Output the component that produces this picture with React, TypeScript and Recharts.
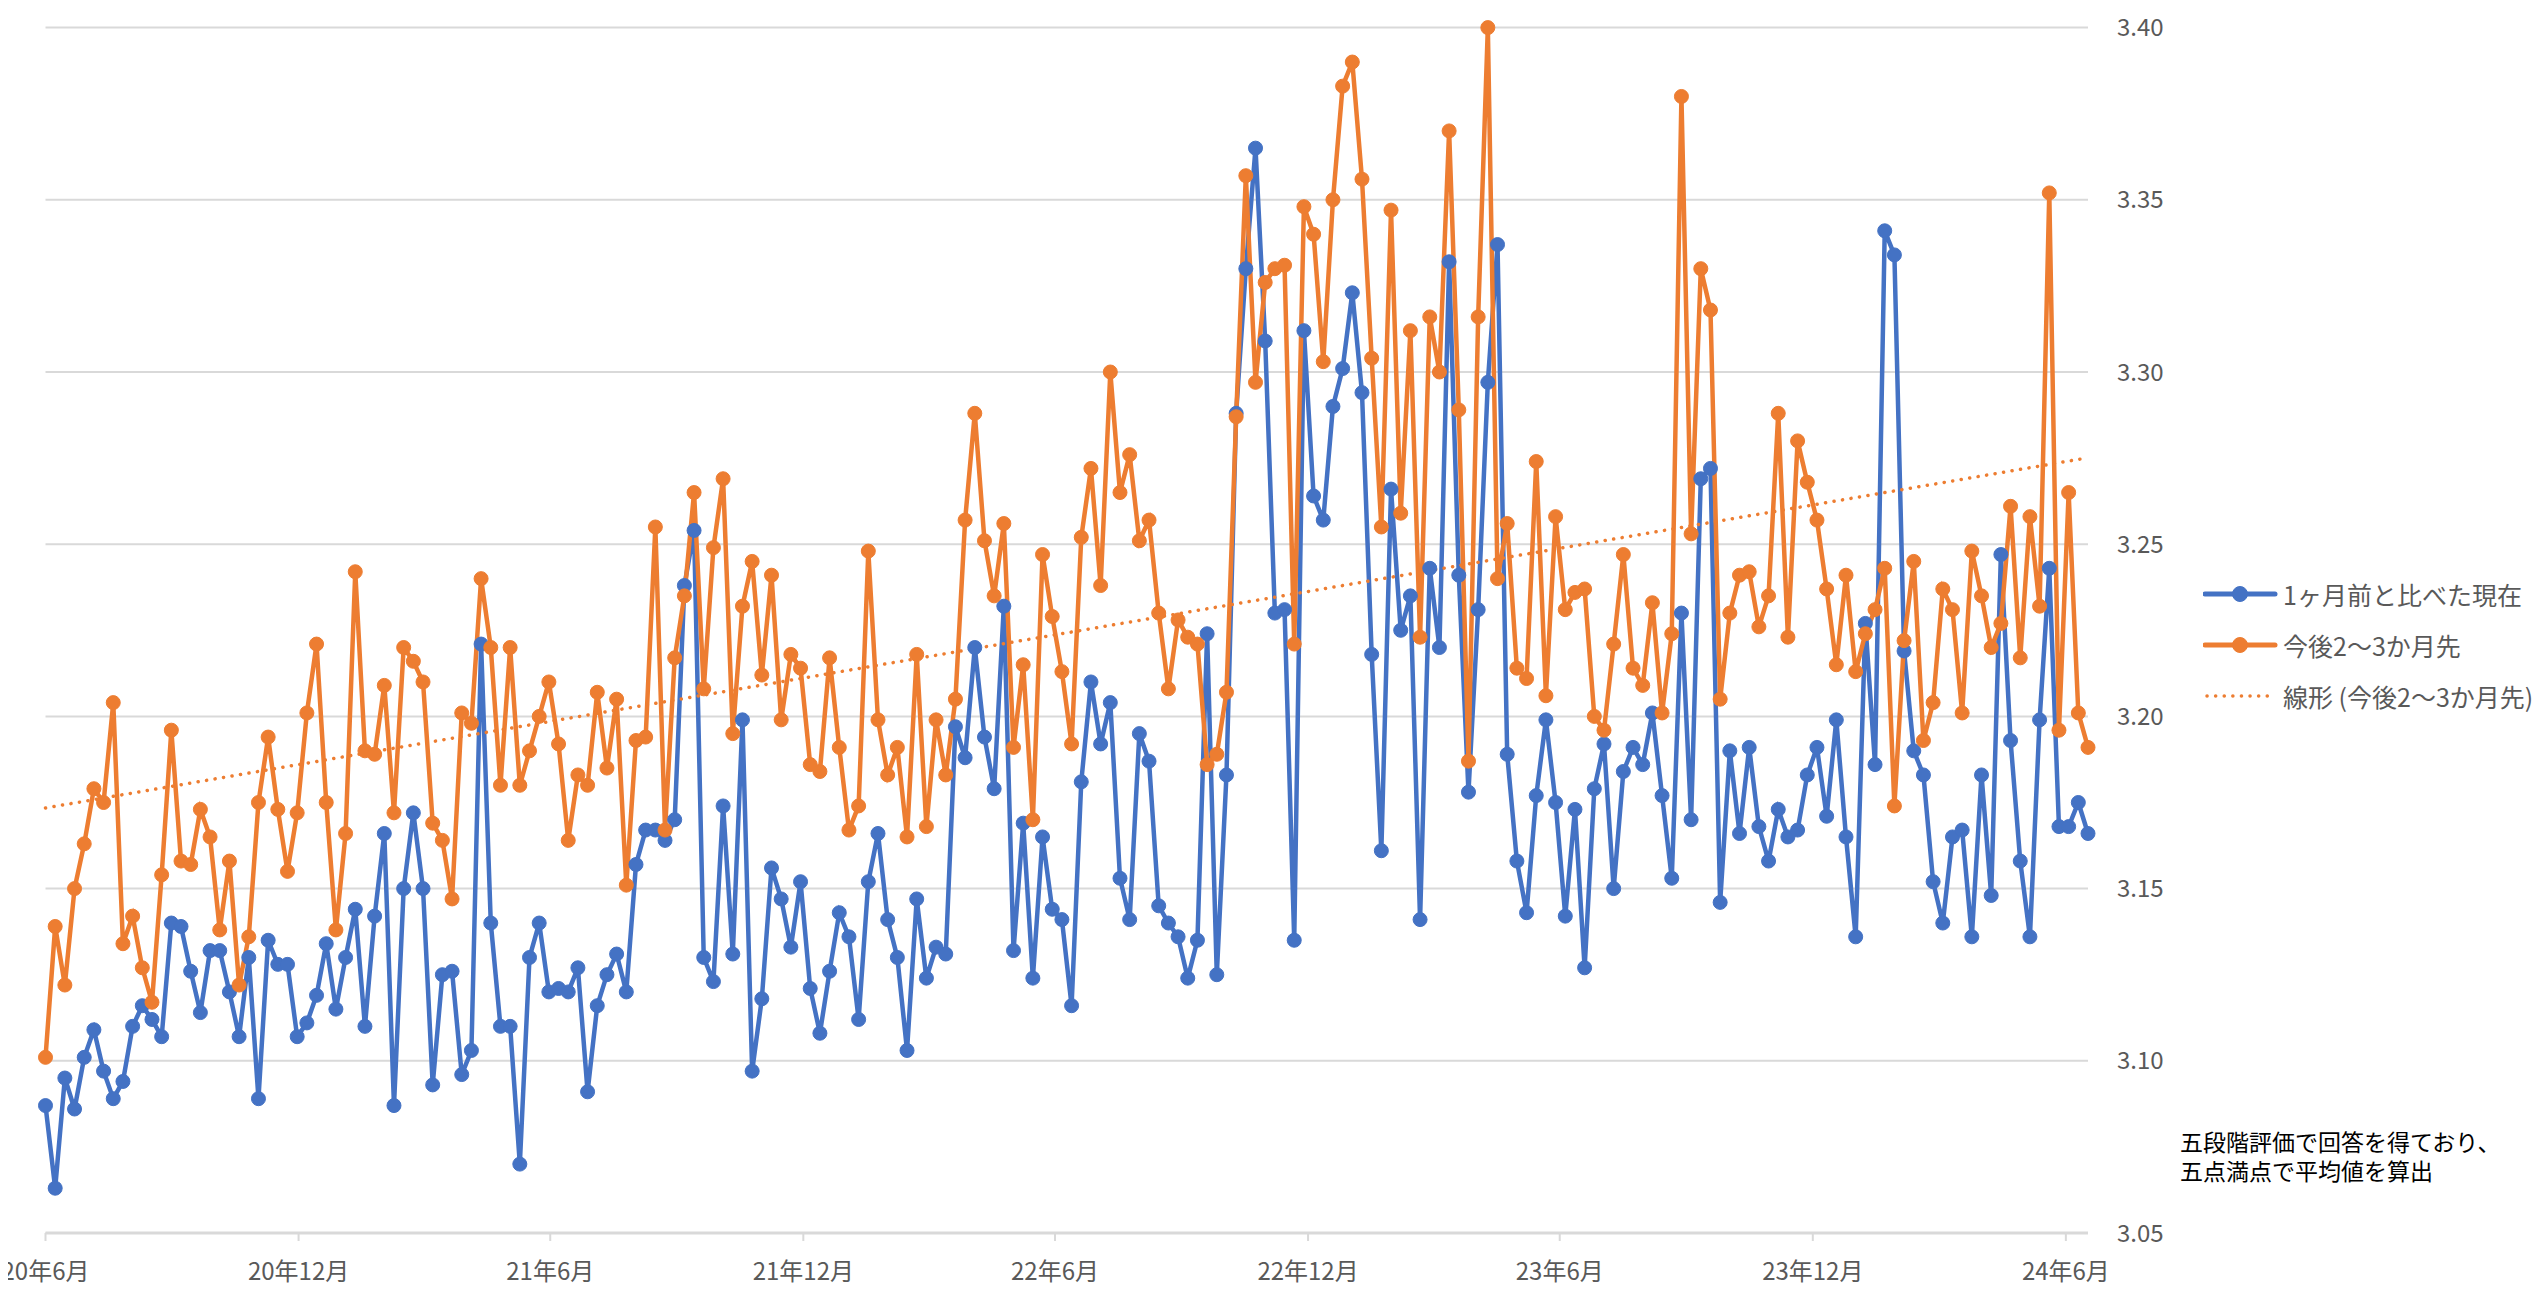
import React from 'react';
import { LineChart, Line, XAxis, YAxis, CartesianGrid } from 'recharts';

const startDate = '2020-06-01';
const tickDates = ['2020-06-01', '2020-12-01', '2021-06-01', '2021-12-01', '2022-06-01', '2022-12-01', '2023-06-01', '2023-12-01', '2024-06-01'];
const tickLabels = ['20年6月', '20年12月', '21年6月', '21年12月', '22年6月', '22年12月', '23年6月', '23年12月', '24年6月'];
const yTicks = [3.05, 3.1, 3.15, 3.2, 3.25, 3.3, 3.35, 3.4];
const seriesNames = ['1ヶ月前と比べた現在', '今後2〜3か月先', '線形 (今後2〜3か月先)'];
const noteLines = ['五段階評価で回答を得ており、', '五点満点で平均値を算出'];

// 1ヶ月前と比べた現在 (weekly)
const nowValues = [
  3.087, 3.063, 3.095, 3.086, 3.101, 3.109, 3.097, 3.089, 3.094, 3.110,
  3.116, 3.112, 3.107, 3.140, 3.139, 3.126, 3.114, 3.132, 3.132, 3.120,
  3.107, 3.130, 3.089, 3.135, 3.128, 3.128, 3.107, 3.111, 3.119, 3.134,
  3.115, 3.130, 3.144, 3.110, 3.142, 3.166, 3.087, 3.150, 3.172, 3.150,
  3.093, 3.125, 3.126, 3.096, 3.103, 3.221, 3.140, 3.110, 3.110, 3.070,
  3.130, 3.140, 3.120, 3.121, 3.120, 3.127, 3.091, 3.116, 3.125, 3.131,
  3.120, 3.157, 3.167, 3.167, 3.164, 3.170, 3.238, 3.254, 3.130, 3.123,
  3.174, 3.131, 3.199, 3.097, 3.118, 3.156, 3.147, 3.133, 3.152, 3.121,
  3.108, 3.126, 3.143, 3.136, 3.112, 3.152, 3.166, 3.141, 3.130, 3.103,
  3.147, 3.124, 3.133, 3.131, 3.197, 3.188, 3.220, 3.194, 3.179, 3.232,
  3.132, 3.169, 3.124, 3.165, 3.144, 3.141, 3.116, 3.181, 3.210, 3.192,
  3.204, 3.153, 3.141, 3.195, 3.187, 3.145, 3.140, 3.136, 3.124, 3.135,
  3.224, 3.125, 3.183, 3.288, 3.330, 3.365, 3.309, 3.230, 3.231, 3.135,
  3.312, 3.264, 3.257, 3.290, 3.301, 3.323, 3.294, 3.218, 3.161, 3.266,
  3.225, 3.235, 3.141, 3.243, 3.220, 3.332, 3.241, 3.178, 3.231, 3.297,
  3.337, 3.189, 3.158, 3.143, 3.177, 3.199, 3.175, 3.142, 3.173, 3.127,
  3.179, 3.192, 3.150, 3.184, 3.191, 3.186, 3.201, 3.177, 3.153, 3.230,
  3.170, 3.269, 3.272, 3.146, 3.190, 3.166, 3.191, 3.168, 3.158, 3.173,
  3.165, 3.167, 3.183, 3.191, 3.171, 3.199, 3.165, 3.136, 3.227, 3.186,
  3.341, 3.334, 3.219, 3.190, 3.183, 3.152, 3.140, 3.165, 3.167, 3.136,
  3.183, 3.148, 3.247, 3.193, 3.158, 3.136, 3.199, 3.243, 3.168, 3.168,
  3.175, 3.166,
];

// 今後2〜3か月先 (weekly)
const aheadValues = [
  3.101, 3.139, 3.122, 3.150, 3.163, 3.179, 3.175, 3.204, 3.134, 3.142,
  3.127, 3.117, 3.154, 3.196, 3.158, 3.157, 3.173, 3.165, 3.138, 3.158,
  3.122, 3.136, 3.175, 3.194, 3.173, 3.155, 3.172, 3.201, 3.221, 3.175,
  3.138, 3.166, 3.242, 3.190, 3.189, 3.209, 3.172, 3.220, 3.216, 3.210,
  3.169, 3.164, 3.147, 3.201, 3.198, 3.240, 3.220, 3.180, 3.220, 3.180,
  3.190, 3.200, 3.210, 3.192, 3.164, 3.183, 3.180, 3.207, 3.185, 3.205,
  3.151, 3.193, 3.194, 3.255, 3.167, 3.217, 3.235, 3.265, 3.208, 3.249,
  3.269, 3.195, 3.232, 3.245, 3.212, 3.241, 3.199, 3.218, 3.214, 3.186,
  3.184, 3.217, 3.191, 3.167, 3.174, 3.248, 3.199, 3.183, 3.191, 3.165,
  3.218, 3.168, 3.199, 3.183, 3.205, 3.257, 3.288, 3.251, 3.235, 3.256,
  3.191, 3.215, 3.170, 3.247, 3.229, 3.213, 3.192, 3.252, 3.272, 3.238,
  3.300, 3.265, 3.276, 3.251, 3.257, 3.230, 3.208, 3.228, 3.223, 3.221,
  3.186, 3.189, 3.207, 3.287, 3.357, 3.297, 3.326, 3.330, 3.331, 3.221,
  3.348, 3.340, 3.303, 3.350, 3.383, 3.390, 3.356, 3.304, 3.255, 3.347,
  3.259, 3.312, 3.223, 3.316, 3.300, 3.370, 3.289, 3.187, 3.316, 3.400,
  3.240, 3.256, 3.214, 3.211, 3.274, 3.206, 3.258, 3.231, 3.236, 3.237,
  3.200, 3.196, 3.221, 3.247, 3.214, 3.209, 3.233, 3.201, 3.224, 3.380,
  3.253, 3.330, 3.318, 3.205, 3.230, 3.241, 3.242, 3.226, 3.235, 3.288,
  3.223, 3.280, 3.268, 3.257, 3.237, 3.215, 3.241, 3.213, 3.224, 3.231,
  3.243, 3.174, 3.222, 3.245, 3.193, 3.204, 3.237, 3.231, 3.201, 3.248,
  3.235, 3.220, 3.227, 3.261, 3.217, 3.258, 3.232, 3.352, 3.196, 3.265,
  3.201, 3.191,
];

const BLUE = '#4472C4';
const ORANGE = '#ED7D31';
const FONT = '"Noto Sans CJK JP", "Noto Sans", sans-serif';

const WEEK_MS = 7 * 24 * 3600 * 1000;
const weekIndex = (d: string) => (Date.parse(d) - Date.parse(startDate)) / WEEK_MS;
const xTicks = tickDates.map(weekIndex);

// least-squares linear trend of 今後2〜3か月先
const n = aheadValues.length;
const mx = (n - 1) / 2;
const my = aheadValues.reduce((a, b) => a + b, 0) / n;
let sxy = 0;
let sxx = 0;
aheadValues.forEach((v, i) => {
  sxy += (i - mx) * (v - my);
  sxx += (i - mx) * (i - mx);
});
const slope = sxy / sxx;
const intercept = my - slope * mx;

const data = aheadValues.map((v, i) => ({
  x: i,
  now: nowValues[i],
  ahead: v,
  trend: intercept + slope * i,
}));

const W = 2530;
const H = 1281;

function LegendIcon({ kind }: { kind: number }) {
  if (kind === 2) {
    return (
      <svg width={80} height={20} style={{ display: 'block' }}>
        <line x1={4} y1={10} x2={72} y2={10} stroke={ORANGE} strokeWidth={3.5} strokeDasharray="0.1 8.5" strokeLinecap="round" />
      </svg>
    );
  }
  const c = kind === 0 ? BLUE : ORANGE;
  return (
    <svg width={80} height={20} style={{ display: 'block' }}>
      <line x1={2} y1={10} x2={72} y2={10} stroke={c} strokeWidth={5} strokeLinecap="round" />
      <circle cx={37} cy={10} r={7.5} fill={c} stroke={c} />
    </svg>
  );
}

export default function App() {
  return (
    <div style={{ position: 'relative', width: W, height: H, background: '#fff' }}>
      <LineChart
        width={W}
        height={H}
        data={data}
        margin={{ top: 19.6, left: 37.5, right: 350, bottom: 6 }}
      >
        <CartesianGrid horizontal vertical={false} stroke="#D9D9D9" strokeWidth={2} />
        <XAxis
          dataKey="x"
          type="number"
          domain={[0, n - 1]}
          ticks={xTicks}
          interval={0}
          tickFormatter={(_v: number, i: number) => tickLabels[i]}
          height={50}
          tickSize={8}
          tickMargin={22}
          axisLine={{ stroke: '#D9D9D9', strokeWidth: 3 }}
          tickLine={{ stroke: '#D9D9D9', strokeWidth: 2 }}
          tick={{ fill: '#595959', fontSize: 24, fontFamily: FONT }}
          allowDecimals
        />
        <YAxis
          orientation="right"
          type="number"
          domain={[3.05, 3.4]}
          ticks={yTicks}
          interval={0}
          width={100}
          tickFormatter={(v: number) => v.toFixed(2)}
          axisLine={false}
          tickLine={false}
          tickSize={0}
          tickMargin={29}
          tick={{ fill: '#595959', fontSize: 24, fontFamily: FONT, textAnchor: 'start' }}
        />
        <Line
          dataKey="now"
          name={seriesNames[0]}
          stroke={BLUE}
          strokeWidth={4.5}
          dot={{ r: 7, fill: BLUE, stroke: BLUE, strokeWidth: 1 }}
          activeDot={false}
          isAnimationActive={false}
        />
        <Line
          dataKey="ahead"
          name={seriesNames[1]}
          stroke={ORANGE}
          strokeWidth={4.5}
          dot={{ r: 7, fill: ORANGE, stroke: ORANGE, strokeWidth: 1 }}
          activeDot={false}
          isAnimationActive={false}
        />
        <Line
          dataKey="trend"
          name={seriesNames[2]}
          stroke={ORANGE}
          strokeWidth={3.5}
          strokeDasharray="0.1 8.5"
          strokeLinecap="round"
          dot={false}
          activeDot={false}
          isAnimationActive={false}
        />
      </LineChart>

      <div style={{ position: 'absolute', left: 2195, top: 560, fontFamily: FONT, fontSize: 25, color: '#595959' }}>
        {seriesNames.map((name, i) => (
          <div key={name} style={{ display: 'flex', alignItems: 'center', height: 51, whiteSpace: 'nowrap' }}>
            <LegendIcon kind={i} />
            <span>{name}</span>
          </div>
        ))}
      </div>

      <div style={{ position: 'absolute', left: 2172, top: 1119, fontFamily: FONT, fontSize: 23, lineHeight: '29px', color: '#000', whiteSpace: 'nowrap' }}>
        {noteLines.map((t) => (
          <div key={t}>{t}</div>
        ))}
      </div>
    </div>
  );
}
